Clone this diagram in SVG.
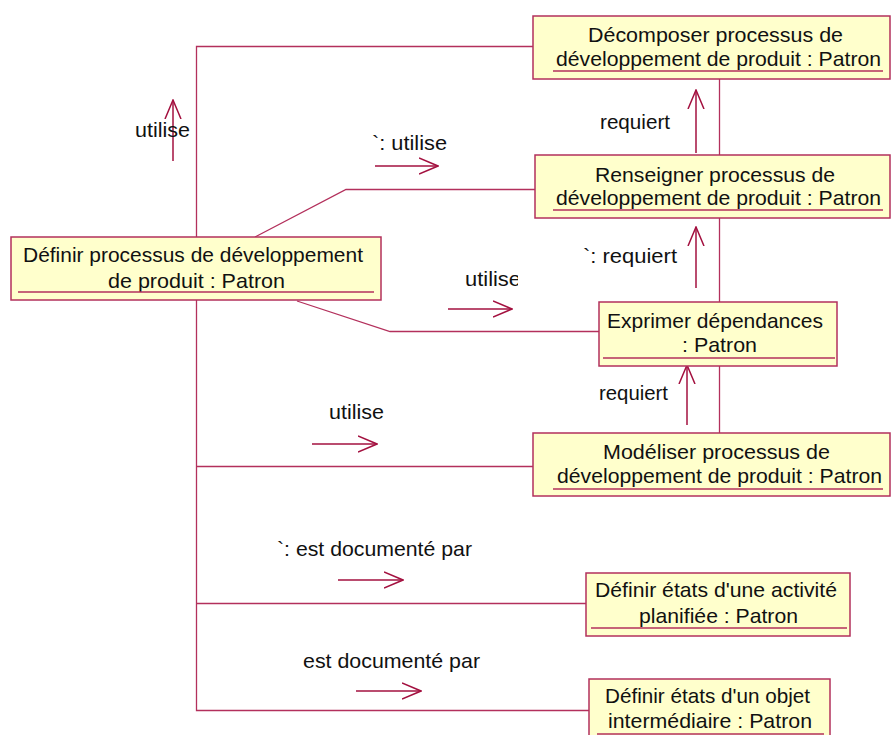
<svg xmlns="http://www.w3.org/2000/svg" width="891" height="735" viewBox="0 0 891 735">
<defs>
<style>
.box{fill:#ffffcc;stroke:#b3305c;stroke-width:1.5}
.ul{stroke:#b3305c;stroke-width:1.3}
.t{font-family:"Liberation Sans",Arial,sans-serif;font-size:21px;fill:#111}
.c{fill:none;stroke:#b3305c;stroke-width:1.3}
.ar{fill:none;stroke:#a3103f;stroke-width:1.5}
</style>
<marker id="oa" viewBox="0 0 20 18" refX="19" refY="9" markerWidth="20" markerHeight="18" markerUnits="userSpaceOnUse" orient="auto">
<path d="M0,1 L19,9 L0,17" fill="none" stroke="#a3103f" stroke-width="1.5"/>
</marker>
<clipPath id="clipU3"><rect x="440" y="260" width="78" height="40"/></clipPath>
</defs>
<rect width="891" height="735" fill="#ffffff"/>
<g id="connectors">
<path class="c" d="M196.5,237 V46.5 H533"/>
<path class="c" d="M255,237 L346,189.5 H535"/>
<path class="c" d="M297,301 L390,331.5 H599"/>
<path class="c" d="M196.5,300 V710.5 H589"/>
<path class="c" d="M196.5,466.5 H533"/>
<path class="c" d="M196.5,603.5 H586"/>
<path class="c" d="M719.5,79 V155"/>
<path class="c" d="M719.5,218 V302"/>
<path class="c" d="M719.5,366 V433"/>
<line class="ar" x1="173" y1="161" x2="173" y2="100" marker-end="url(#oa)"/>
<text class="t" x="135" y="137" textLength="55" lengthAdjust="spacingAndGlyphs">utilise</text>
<line class="ar" x1="375" y1="166" x2="438" y2="166" marker-end="url(#oa)"/>
<text class="t" x="372" y="150" textLength="75" lengthAdjust="spacingAndGlyphs">`: utilise</text>
<line class="ar" x1="448" y1="309" x2="512" y2="309" marker-end="url(#oa)"/>
<text class="t" x="465" y="286" textLength="56" lengthAdjust="spacingAndGlyphs" clip-path="url(#clipU3)">utilise</text>
<line class="ar" x1="312" y1="444" x2="377" y2="444" marker-end="url(#oa)"/>
<text class="t" x="329" y="419" textLength="55" lengthAdjust="spacingAndGlyphs">utilise</text>
<line class="ar" x1="696" y1="153" x2="696" y2="90" marker-end="url(#oa)"/>
<text class="t" x="600" y="129" textLength="70" lengthAdjust="spacingAndGlyphs">requiert</text>
<line class="ar" x1="696" y1="288" x2="696" y2="227" marker-end="url(#oa)"/>
<text class="t" x="583" y="263" textLength="94" lengthAdjust="spacingAndGlyphs">`: requiert</text>
<line class="ar" x1="687" y1="425" x2="687" y2="365" marker-end="url(#oa)"/>
<text class="t" x="599" y="400" textLength="69" lengthAdjust="spacingAndGlyphs">requiert</text>
<line class="ar" x1="338" y1="580" x2="403" y2="580" marker-end="url(#oa)"/>
<text class="t" x="277" y="556" textLength="195" lengthAdjust="spacingAndGlyphs">`: est documenté par</text>
<line class="ar" x1="356" y1="691" x2="421" y2="691" marker-end="url(#oa)"/>
<text class="t" x="303" y="668" textLength="177" lengthAdjust="spacingAndGlyphs">est documenté par</text>
</g>
<g id="n1">
<rect class="box" x="533" y="16" width="357" height="63"/>
<text class="t" x="588" y="42" textLength="255" lengthAdjust="spacingAndGlyphs">Décomposer processus de</text>
<text class="t" x="556" y="66" textLength="325" lengthAdjust="spacingAndGlyphs">développement de produit : Patron</text>
<line class="ul" x1="553" y1="71" x2="883" y2="71"/>
</g>
<g id="n2">
<rect class="box" x="535" y="155" width="355" height="63"/>
<text class="t" x="595" y="182" textLength="240" lengthAdjust="spacingAndGlyphs">Renseigner processus de</text>
<text class="t" x="556" y="205" textLength="325" lengthAdjust="spacingAndGlyphs">développement de produit : Patron</text>
<line class="ul" x1="553" y1="210" x2="883" y2="210"/>
</g>
<g id="n3">
<rect class="box" x="11" y="237" width="370" height="63"/>
<text class="t" x="23" y="262" textLength="340" lengthAdjust="spacingAndGlyphs">Définir processus de développement</text>
<text class="t" x="108" y="288" textLength="177" lengthAdjust="spacingAndGlyphs">de produit : Patron</text>
<line class="ul" x1="18" y1="292" x2="374" y2="292"/>
</g>
<g id="n4">
<rect class="box" x="599" y="302" width="238" height="64"/>
<text class="t" x="607" y="328" textLength="216" lengthAdjust="spacingAndGlyphs">Exprimer dépendances</text>
<text class="t" x="682" y="352" textLength="75" lengthAdjust="spacingAndGlyphs">: Patron</text>
<line class="ul" x1="603" y1="358" x2="835" y2="358"/>
</g>
<g id="n5">
<rect class="box" x="533" y="433" width="357" height="63"/>
<text class="t" x="603" y="459" textLength="227" lengthAdjust="spacingAndGlyphs">Modéliser processus de</text>
<text class="t" x="557" y="483" textLength="325" lengthAdjust="spacingAndGlyphs">développement de produit : Patron</text>
<line class="ul" x1="553" y1="489" x2="883" y2="489"/>
</g>
<g id="n6">
<rect class="box" x="586" y="573" width="264" height="63"/>
<text class="t" x="595" y="597" textLength="242" lengthAdjust="spacingAndGlyphs">Définir états d'une activité</text>
<text class="t" x="639" y="623" textLength="159" lengthAdjust="spacingAndGlyphs">planifiée : Patron</text>
<line class="ul" x1="591" y1="628" x2="847" y2="628"/>
</g>
<g id="n7">
<rect class="box" x="589" y="679" width="241" height="63"/>
<text class="t" x="605" y="703" textLength="205" lengthAdjust="spacingAndGlyphs">Définir états d'un objet</text>
<text class="t" x="608" y="728" textLength="204" lengthAdjust="spacingAndGlyphs">intermédiaire : Patron</text>
<line class="ul" x1="597" y1="734" x2="824" y2="734"/>
</g>
</svg>
